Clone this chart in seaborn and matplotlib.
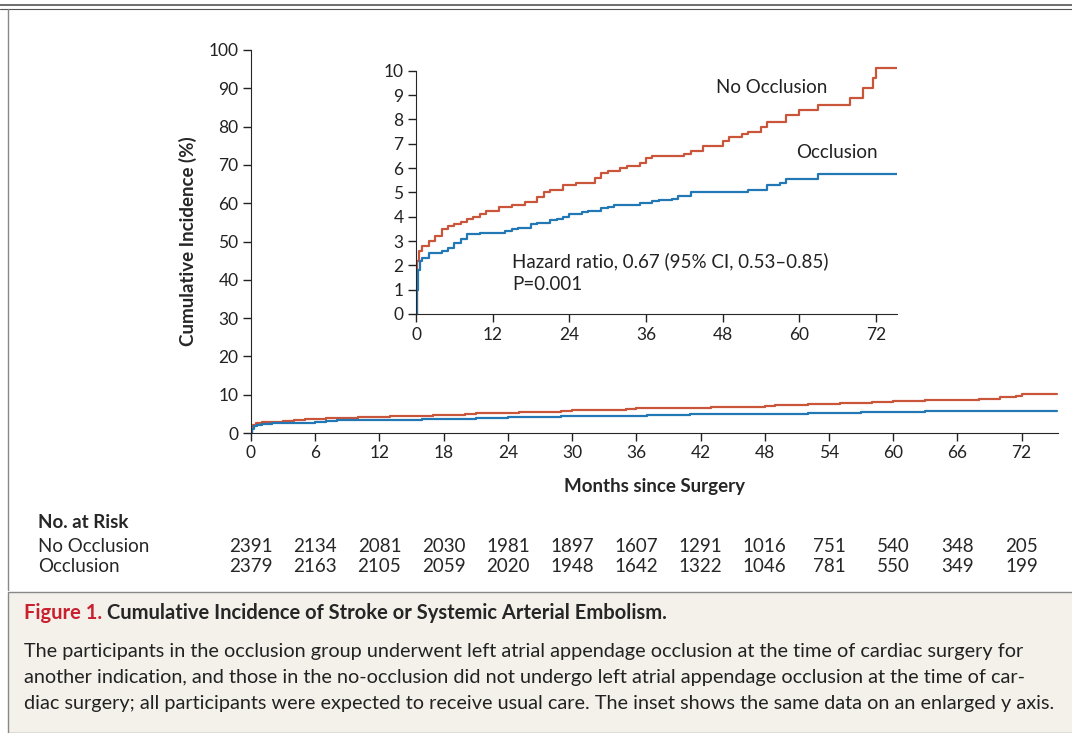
import matplotlib
matplotlib.use("Agg")
import matplotlib.pyplot as plt
import seaborn as sns
import pandas as pd
from matplotlib.patches import Rectangle
from matplotlib.lines import Line2D

sns.set_style("white")
plt.rcParams['font.family'] = ['Lato', 'DejaVu Sans']

no_t = [0, 0.1, 0.2, 0.5, 1, 2, 3, 4, 5, 6, 7, 8, 9, 10, 11, 13, 15, 17, 19, 20, 21, 23, 25, 28, 29, 30, 32, 33, 35, 36, 37, 42, 43, 45, 48, 49, 51, 52, 54, 55, 58, 60, 63, 68, 70, 71.5, 72, 75.3]
no_v = [0, 1.5, 2.2, 2.6, 2.8, 3.0, 3.2, 3.5, 3.6, 3.7, 3.8, 3.9, 4.0, 4.1, 4.25, 4.4, 4.5, 4.6, 4.8, 5.0, 5.1, 5.3, 5.4, 5.6, 5.8, 5.9, 6.0, 6.1, 6.2, 6.4, 6.5, 6.6, 6.7, 6.9, 7.1, 7.3, 7.4, 7.5, 7.7, 7.9, 8.2, 8.4, 8.6, 8.9, 9.3, 9.7, 10.1, 10.1]
oc_t = [0, 0.1, 0.3, 0.6, 1, 2, 4, 5, 6, 7, 8, 10, 14, 15, 16, 18, 19, 21, 22, 23, 24, 26, 27, 29, 30, 31, 35, 37, 38, 40, 41, 43, 52, 55, 57, 58, 63, 75.3]
oc_v = [0, 1.0, 1.8, 2.2, 2.3, 2.5, 2.6, 2.7, 2.9, 3.1, 3.3, 3.35, 3.4, 3.5, 3.55, 3.7, 3.75, 3.85, 3.9, 4.0, 4.1, 4.2, 4.25, 4.35, 4.4, 4.5, 4.55, 4.65, 4.7, 4.75, 4.85, 5.0, 5.1, 5.3, 5.4, 5.55, 5.75, 5.75]

risk_months = [0, 6, 12, 18, 24, 30, 36, 42, 48, 54, 60, 66, 72]
risk_no = [2391, 2134, 2081, 2030, 1981, 1897, 1607, 1291, 1016, 751, 540, 348, 205]
risk_oc = [2379, 2163, 2105, 2059, 2020, 1948, 1642, 1322, 1046, 781, 550, 349, 199]

RED = "#c9553a"
BLUE = "#2277b5"

df = pd.concat([
    pd.DataFrame({"t": no_t, "v": no_v, "g": "No Occlusion"}),
    pd.DataFrame({"t": oc_t, "v": oc_v, "g": "Occlusion"}),
])
pal = {"No Occlusion": RED, "Occlusion": BLUE}

fig = plt.figure(figsize=(10.72, 7.33), dpi=100)

fig.add_artist(Line2D([0, 1], [1 - 5/733]*2, color="#555", lw=1.2))
fig.add_artist(Line2D([0, 1], [1 - 9/733]*2, color="#555", lw=0.8))
fig.add_artist(Line2D([8/1072]*2, [1 - 590/733, 1 - 9/733], color="#888", lw=1))
fig.add_artist(Rectangle((8/1072, 0), 1, 1 - 592/733, facecolor="#f4f1eb", edgecolor="#888", lw=1))

tick_kw = dict(labelsize=12.5, colors="#222", length=6, width=1, bottom=True, left=True,
               direction="out", labelrotation=0, pad=3)

ax = fig.add_axes([251/1072, (733-433)/733, 807/1072, 383/733])
ax.set_facecolor("none")
sns.lineplot(data=df, x="t", y="v", hue="g", palette=pal, drawstyle="steps-post",
             ax=ax, legend=False, lw=1.6, estimator=None)
ax.set_xlim(0, 75.4); ax.set_ylim(0, 100)
ax.set_xticks(range(0, 73, 6)); ax.set_yticks(range(0, 101, 10))
sns.despine(ax=ax)
ax.tick_params(**tick_kw)
ax.set_xlabel("Months since Surgery", fontsize=13.5, fontweight="bold", labelpad=12)
ax.set_ylabel("Cumulative Incidence (%)", fontsize=13.5, fontweight="bold", labelpad=8)

ins = fig.add_axes([416/1072, (733-314)/733, 481/1072, 248/733])
ins.set_facecolor("none")
sns.lineplot(data=df, x="t", y="v", hue="g", palette=pal, drawstyle="steps-post",
             ax=ins, legend=False, lw=1.6, estimator=None)
ins.set_xlim(0, 75.3); ins.set_ylim(0, 10.2)
ins.set_xticks(range(0, 73, 12)); ins.set_yticks(range(0, 11))
sns.despine(ax=ins)
ins.spines["left"].set_bounds(0, 10)
ins.tick_params(**tick_kw)
ins.set_xlabel(""); ins.set_ylabel("")
ins.text(47, 9.1, "No Occlusion", fontsize=13.5, color="#222")
ins.text(59.5, 6.4, "Occlusion", fontsize=13.5, color="#222")
ins.text(15, 2.55, "Hazard ratio, 0.67 (95% CI, 0.53\u20130.85)\nP=0.001", fontsize=13.5,
         color="#222", linespacing=1.45, va="top")

fig.text(38/1072, 1 - 522/733, "No. at Risk", fontsize=13.5, fontweight="bold", va="center")
fig.text(38/1072, 1 - 546/733, "No Occlusion", fontsize=13.5, va="center")
fig.text(38/1072, 1 - 567/733, "Occlusion", fontsize=13.5, va="center")
for m, a, b in zip(risk_months, risk_no, risk_oc):
    xf = ax.transData.transform((m, 0))[0] / fig.bbox.width
    fig.text(xf, 1 - 546/733, str(a), fontsize=13.5, va="center", ha="center")
    fig.text(xf, 1 - 567/733, str(b), fontsize=13.5, va="center", ha="center")

fig.text(24/1072, 1 - 613/733, "Figure 1.", fontsize=14.5, fontweight="bold", color="#c8202f", va="center")
fig.text(107/1072, 1 - 613/733, "Cumulative Incidence of Stroke or Systemic Arterial Embolism.", fontsize=14.5, fontweight="bold", va="center")
cap = ["The participants in the occlusion group underwent left atrial appendage occlusion at the time of cardiac surgery for",
       "another indication, and those in the no-occlusion did not undergo left atrial appendage occlusion at the time of car-",
       "diac surgery; all participants were expected to receive usual care. The inset shows the same data on an enlarged y axis."]
for i, line in enumerate(cap):
    fig.text(24/1072, 1 - (651 + 26*i)/733, line, fontsize=14.3, va="center", color="#222")

fig.savefig("out.png", dpi=100)
